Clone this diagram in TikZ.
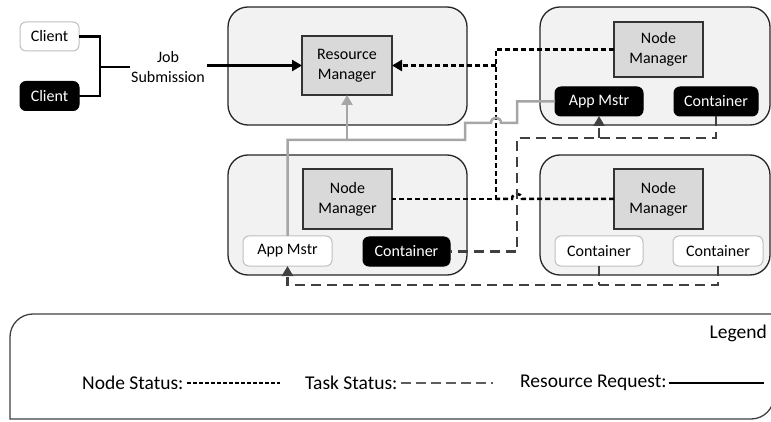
\documentclass[tikz,border=0pt]{standalone}
\usepackage{fontspec}
\setmainfont{Carlito}
\usetikzlibrary{arrows.meta}
\definecolor{boxfill}{HTML}{F2F2F2}
\definecolor{mgrfill}{HTML}{D9D9D9}
\definecolor{wborder}{HTML}{BFBFBF}
\definecolor{taskc}{HTML}{404040}
\definecolor{greyc}{HTML}{A6A6A6}
\begin{document}
\begin{tikzpicture}[x=1pt,y=-1pt,
  txt/.style={font=\fontsize{16}{20}\selectfont},
  legtxt/.style={font=\fontsize{19.5}{23}\selectfont, inner sep=0pt},
  bigbox/.style={draw=black!85, line width=1.3pt, fill=boxfill, rounded corners=20pt, inner sep=0pt, outer sep=0pt},
  mgr/.style={draw=black!80, line width=1.3pt, fill=mgrfill, txt, align=center, inner sep=0pt, outer sep=0pt},
  wbox/.style={draw=wborder, line width=1pt, fill=white, rounded corners=6pt, txt, inner sep=0pt, outer sep=0pt},
  bbox/.style={draw=black, line width=1pt, fill=black, text=white, rounded corners=6pt, txt, inner sep=0pt, outer sep=0pt},
  req/.style={line width=2.5pt, black},
  nstat/.style={line width=2.5pt, black, dash pattern=on 5pt off 3pt},
  task/.style={line width=2.5pt, taskc, dash pattern=on 10pt off 6pt},
  greq/.style={line width=2.5pt, greyc},
  tip/.style={-{Triangle[length=10pt,width=11pt]}}
]
\useasboundingbox (0,0) rectangle (771,422);

% big boxes
\node[bigbox, minimum width=239pt, minimum height=118pt] (b1) at (347.5,66) {};
\node[bigbox, minimum width=230pt, minimum height=118pt] (b2) at (655,66) {};
\node[bigbox, minimum width=239pt, minimum height=120pt] (b3) at (347.5,215) {};
\node[bigbox, minimum width=230pt, minimum height=120pt] (b4) at (655,215) {};

% clients
\node[wbox, minimum width=59pt, minimum height=29pt] (cl1) at (49.5,36.5) {Client};
\node[bbox, minimum width=59pt, minimum height=29pt] (cl2) at (49.5,96) {Client};
\node[txt, align=center, inner sep=0pt] (job) at (168,67) {Job\\Submission};

% managers
\node[mgr, minimum width=90pt, minimum height=59pt] (rm) at (347,65.5) {Resource\\Manager};
\node[mgr, minimum width=89pt, minimum height=55pt] (nm1) at (658.5,49.5) {Node\\Manager};
\node[mgr, minimum width=89pt, minimum height=60pt] (nm2) at (347.5,199) {Node\\Manager};
\node[mgr, minimum width=89pt, minimum height=60pt] (nm3) at (658.5,199) {Node\\Manager};

% small boxes
\node[bbox, minimum width=88pt, minimum height=29pt] (am1) at (599,101.5) {App Mstr};
\node[bbox, minimum width=84pt, minimum height=29pt] (c1) at (716,101.5) {Container};
\node[wbox, minimum width=89pt, minimum height=30pt] (am2) at (287.5,251) {App Mstr};
\node[bbox, minimum width=87pt, minimum height=29pt] (c2) at (406.5,251.5) {Container};
\node[wbox, minimum width=88pt, minimum height=30pt] (c3) at (599,251) {Container};
\node[wbox, minimum width=90pt, minimum height=30pt] (c4) at (718,251) {Container};

% client connectors
\coordinate (j1) at (100,36.5);
\coordinate (j2) at (100,96);
\coordinate (j3) at (100,67);
\coordinate (j4) at (130,67);
\coordinate (j5) at (207,65.5);
\draw[req] (cl1.east) -- (j1) -- (j2) -- (cl2.east);
\draw[req] (j3) -- (j4);
\draw[req,tip] (j5) -- (rm.west);

% node status
\coordinate (ns1) at (496,49.5);
\coordinate (ns2) at (496,199);
\coordinate (ns3) at (496,65.5);
\coordinate (h1) at (522,199);
\coordinate (h2) at (512,199);
\draw[nstat] (nm1.west) -- (ns1) -- (ns2) -- (nm2.east);
\draw[nstat,tip] (ns3) -- (rm.east);
\draw[nstat] (nm3.west) -- (h1) .. controls (522,192) and (512,192) .. (h2) -- (ns2);

% grey resource request
\coordinate (g1) at (287.5,140);
\coordinate (g2) at (465,140);
\coordinate (g3) at (465,123);
\coordinate (gh1) at (491,123);
\coordinate (gh2) at (501,123);
\coordinate (g4) at (517,123);
\coordinate (g5) at (517,101.5);
\coordinate (g6) at (347,140);
\draw[greq] (am2.north) -- (g1) -- (g2) -- (g3) -- (gh1) .. controls (491,116) and (501,116) .. (gh2) -- (g4) -- (g5) -- (am1.west);
\draw[greq,tip] (g6) -- (rm.south);

% task status
\coordinate (t1) at (716,138);
\coordinate (t2) at (517,138);
\coordinate (t3) at (517,251.5);
\coordinate (t4) at (599,138);
\coordinate (t5) at (718,285);
\coordinate (t6) at (287.5,285);
\coordinate (t7) at (599,285);
\draw[task] (c1.south) -- (t1) -- (t2) -- (t3) -- (c2.east);
\draw[task,tip] (t4) -- (am1.south);
\draw[task,tip] (c4.south) -- (t5) -- (t6) -- (am2.south);
\draw[task] (c3.south) -- (t7);

% legend
\draw[draw=black!75, line width=1.3pt] (10,337) .. controls (10,324.3) and (20.3,314) .. (33,314) -- (774,314) -- (774,396) .. controls (774,408.7) and (763.7,419) .. (751,419) -- (10,419) -- cycle;
\node[legtxt, anchor=east] (leg) at (767,333) {Legend};
\node[legtxt, anchor=west] (lns) at (82,383) {Node Status:};
\node[legtxt, anchor=west] (lts) at (305,383) {Task Status:};
\node[legtxt, anchor=west] (lrr) at (520,383) {Resource Request:};
\coordinate (ln1) at (280,383);
\coordinate (lt1) at (493,383);
\coordinate (lr1) at (764,383);
\draw[line width=2pt, black, dash pattern=on 4pt off 2pt] ([xshift=3pt]lns.east) -- (ln1);
\draw[line width=2pt, taskc!85, dash pattern=on 10pt off 5pt] ([xshift=3pt]lts.east) -- (lt1);
\draw[line width=2.3pt, black] ([xshift=2pt]lrr.east) -- (lr1);
\end{tikzpicture}
\end{document}
